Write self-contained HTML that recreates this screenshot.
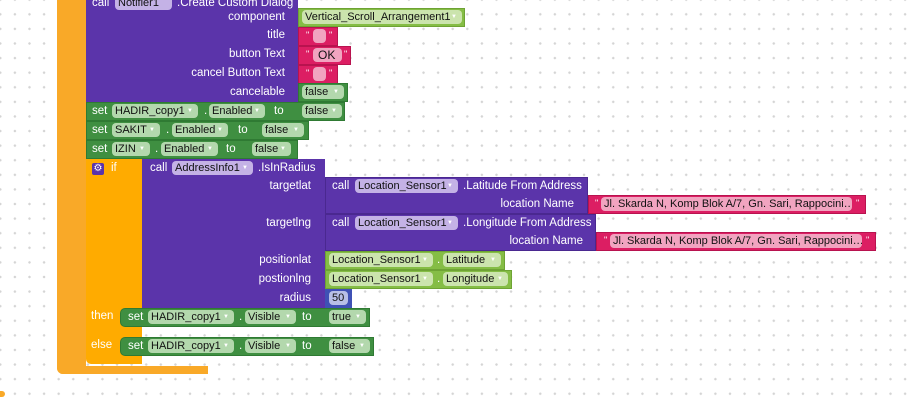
<!DOCTYPE html>
<html><head><meta charset="utf-8"><style>
html,body{margin:0;padding:0}
body{width:911px;height:400px;overflow:hidden;position:relative;background-color:#fff;
background-image:radial-gradient(circle,#d4d4d4 1.1px,transparent 1.4px);background-size:14.6px 14.6px;background-position:-7px 7px;
font-family:"Liberation Sans",sans-serif;font-size:11px;}
.b{position:absolute;}
.t{position:absolute;color:#fff;white-space:nowrap;line-height:14px;font-size:11.5px}
.r{text-align:right}
.f{position:absolute;height:14px;line-height:14px;border-radius:4px;color:#111;white-space:nowrap;padding-left:3px;box-sizing:border-box;font-size:11px;overflow:hidden}
.f i{font-style:normal;font-size:6px;color:#fff;position:absolute;right:5px;top:0}
.pu{background:#5b34aa}
.pf{background:#c4b2e6}
.dg{background:#3f8f41;border:1px solid #2f7a33;box-sizing:border-box}
.gf{background:#b3d8ad}
.lg{background:#85bd45;border:1px solid #6ea334;box-sizing:border-box}
.lf{background:#cbe4ad}
.pk{background:#dc1e63;border:1px solid #b8134f;box-sizing:border-box}
.kf{background:#f1a4c0}
.q{position:absolute;color:#fff;font-size:9px;line-height:10px}
</style></head><body>
<div class="b" style="left:57px;top:0;width:29px;height:374px;background:#f9a928;border-radius:0 0 0 6px"></div>
<div class="b" style="left:57px;top:366px;width:151px;height:8px;background:#f9a928;border-radius:0 0 0 6px"></div>
<div class="b pu" style="left:86px;top:0;width:212px;height:102px"></div>
<div class="t" style="left:92px;top:-4px">call</div>
<div class="f pf" style="left:115px;top:-4px;width:57px">Notifier1</div>
<div class="t" style="left:177px;top:-4px">.Create Custom Dialog</div>
<div class="t r" style="left:150px;width:135px;top:10px">component</div>
<div class="t r" style="left:150px;width:135px;top:28px">title</div>
<div class="t r" style="left:150px;width:135px;top:47px">button Text</div>
<div class="t r" style="left:150px;width:135px;top:66px">cancel Button Text</div>
<div class="t r" style="left:150px;width:135px;top:85px">cancelable</div>
<div class="b lg" style="left:298px;top:8px;width:167px;height:19px"></div>
<div class="f lf" style="left:302px;top:10px;width:160px">Vertical_Scroll_Arrangement1<i>▼</i></div>
<div class="b pk" style="left:298px;top:27px;width:40px;height:19px"></div>
<div class="q" style="left:306px;top:30px">"</div><div class="f kf" style="left:313px;top:29px;width:13px"></div><div class="q" style="left:329px;top:30px">"</div>
<div class="b pk" style="left:298px;top:46px;width:53px;height:19px"></div>
<div class="q" style="left:306px;top:49px">"</div><div class="f kf" style="left:313px;top:48px;width:29px;padding-left:5px;font-size:12px">OK</div><div class="q" style="left:344px;top:49px">"</div>
<div class="b pk" style="left:298px;top:65px;width:40px;height:19px"></div>
<div class="q" style="left:306px;top:68px">"</div><div class="f kf" style="left:313px;top:67px;width:13px"></div><div class="q" style="left:329px;top:68px">"</div>
<div class="b dg" style="left:298px;top:83px;width:50px;height:19px"></div>
<div class="f gf" style="left:302px;top:85px;width:42px">false<i>▼</i></div>
<div class="b dg" style="left:86px;top:102px;width:259px;height:19px"></div>
<div class="t" style="left:92px;top:104px">set</div>
<div class="f gf" style="left:112px;top:104px;width:86px">HADIR_copy1<i>▼</i></div>
<div class="t" style="left:204px;top:104px">.</div>
<div class="f gf" style="left:209px;top:104px;width:56px">Enabled<i>▼</i></div>
<div class="t" style="left:274px;top:104px">to</div>
<div class="f gf" style="left:302px;top:104px;width:40px">false<i>▼</i></div>
<div class="b dg" style="left:86px;top:121px;width:223px;height:19px"></div>
<div class="t" style="left:92px;top:123px">set</div>
<div class="f gf" style="left:112px;top:123px;width:48px">SAKIT<i>▼</i></div>
<div class="t" style="left:166px;top:123px">.</div>
<div class="f gf" style="left:172px;top:123px;width:56px">Enabled<i>▼</i></div>
<div class="t" style="left:238px;top:123px">to</div>
<div class="f gf" style="left:262px;top:123px;width:42px">false<i>▼</i></div>
<div class="b dg" style="left:86px;top:140px;width:212px;height:19px"></div>
<div class="t" style="left:92px;top:142px">set</div>
<div class="f gf" style="left:112px;top:142px;width:38px">IZIN<i>▼</i></div>
<div class="t" style="left:155px;top:142px">.</div>
<div class="f gf" style="left:161px;top:142px;width:57px">Enabled<i>▼</i></div>
<div class="t" style="left:226px;top:142px">to</div>
<div class="f gf" style="left:252px;top:142px;width:39px">false<i>▼</i></div>
<div class="b" style="left:86px;top:159px;width:56px;height:205px;background:#ffab00;border-radius:0 0 0 5px"></div>
<div class="b" style="left:92px;top:163px;width:12px;height:12px;background:#5b34aa;border-radius:2px;color:#fff;font-size:10px;line-height:12px;text-align:center">⚙</div>
<div class="t" style="left:111px;top:161px">if</div>
<div class="t" style="left:91px;top:309px">then</div>
<div class="t" style="left:91px;top:338px">else</div>
<div class="b pu" style="left:142px;top:159px;width:183px;height:149px"></div>
<div class="t" style="left:150px;top:161px">call</div>
<div class="f pf" style="left:172px;top:161px;width:81px">AddressInfo1<i>▼</i></div>
<div class="t" style="left:258px;top:161px">.IsInRadius</div>
<div class="t r" style="left:200px;width:111px;top:179px">targetlat</div>
<div class="t r" style="left:200px;width:111px;top:216px">targetlng</div>
<div class="t r" style="left:200px;width:111px;top:253px">positionlat</div>
<div class="t r" style="left:200px;width:111px;top:272px">postionlng</div>
<div class="t r" style="left:200px;width:111px;top:291px">radius</div>
<div class="b pu" style="left:325px;top:177px;width:263px;height:37px;border:1px solid #4a2890;box-sizing:border-box"></div>
<div class="t" style="left:332px;top:179px">call</div>
<div class="f pf" style="left:355px;top:179px;width:103px">Location_Sensor1<i>▼</i></div>
<div class="t" style="left:463px;top:179px">.Latitude From Address</div>
<div class="t r" style="left:460px;width:114px;top:197px">location Name</div>
<div class="b pk" style="left:588px;top:195px;width:278px;height:19px"></div>
<div class="q" style="left:595px;top:198px">"</div>
<div class="f kf" style="left:601px;top:197px;width:251px">Jl. Skarda N, Komp Blok A/7, Gn. Sari, Rappocini…</div>
<div class="q" style="left:856px;top:198px">"</div>
<div class="b pu" style="left:325px;top:214px;width:271px;height:37px;border:1px solid #4a2890;box-sizing:border-box"></div>
<div class="t" style="left:332px;top:216px">call</div>
<div class="f pf" style="left:355px;top:216px;width:103px">Location_Sensor1<i>▼</i></div>
<div class="t" style="left:463px;top:216px">.Longitude From Address</div>
<div class="t r" style="left:460px;width:123px;top:234px">location Name</div>
<div class="b pk" style="left:596px;top:232px;width:280px;height:19px"></div>
<div class="q" style="left:604px;top:235px">"</div>
<div class="f kf" style="left:610px;top:234px;width:252px">Jl. Skarda N, Komp Blok A/7, Gn. Sari, Rappocini…</div>
<div class="q" style="left:866px;top:235px">"</div>
<div class="b lg" style="left:325px;top:251px;width:180px;height:19px"></div>
<div class="f lf" style="left:329px;top:253px;width:104px">Location_Sensor1<i>▼</i></div>
<div class="t" style="left:437px;top:253px">.</div>
<div class="f lf" style="left:443px;top:253px;width:58px">Latitude<i>▼</i></div>
<div class="b lg" style="left:325px;top:270px;width:187px;height:19px"></div>
<div class="f lf" style="left:329px;top:272px;width:104px">Location_Sensor1<i>▼</i></div>
<div class="t" style="left:437px;top:272px">.</div>
<div class="f lf" style="left:443px;top:272px;width:65px">Longitude<i>▼</i></div>
<div class="b" style="left:325px;top:289px;width:27px;height:19px;background:#3f51b5"></div>
<div class="f" style="left:329px;top:291px;width:19px;background:#b7bfe6">50</div>
<div class="b dg" style="left:120px;top:308px;width:250px;height:19px;border-radius:5px 0 0 5px"></div>
<div class="t" style="left:128px;top:310px">set</div>
<div class="f gf" style="left:148px;top:310px;width:86px">HADIR_copy1<i>▼</i></div>
<div class="t" style="left:239px;top:310px">.</div>
<div class="f gf" style="left:245px;top:310px;width:51px">Visible<i>▼</i></div>
<div class="t" style="left:302px;top:310px">to</div>
<div class="f gf" style="left:329px;top:310px;width:37px">true<i>▼</i></div>
<div class="b dg" style="left:120px;top:337px;width:254px;height:19px;border-radius:5px 0 0 5px"></div>
<div class="t" style="left:128px;top:339px">set</div>
<div class="f gf" style="left:148px;top:339px;width:86px">HADIR_copy1<i>▼</i></div>
<div class="t" style="left:239px;top:339px">.</div>
<div class="f gf" style="left:245px;top:339px;width:51px">Visible<i>▼</i></div>
<div class="t" style="left:302px;top:339px">to</div>
<div class="f gf" style="left:329px;top:339px;width:41px">false<i>▼</i></div>
<div class="b" style="left:0;top:391px;width:5px;height:6px;background:#f9a928;border-radius:0 3px 3px 0"></div>
</body></html>
